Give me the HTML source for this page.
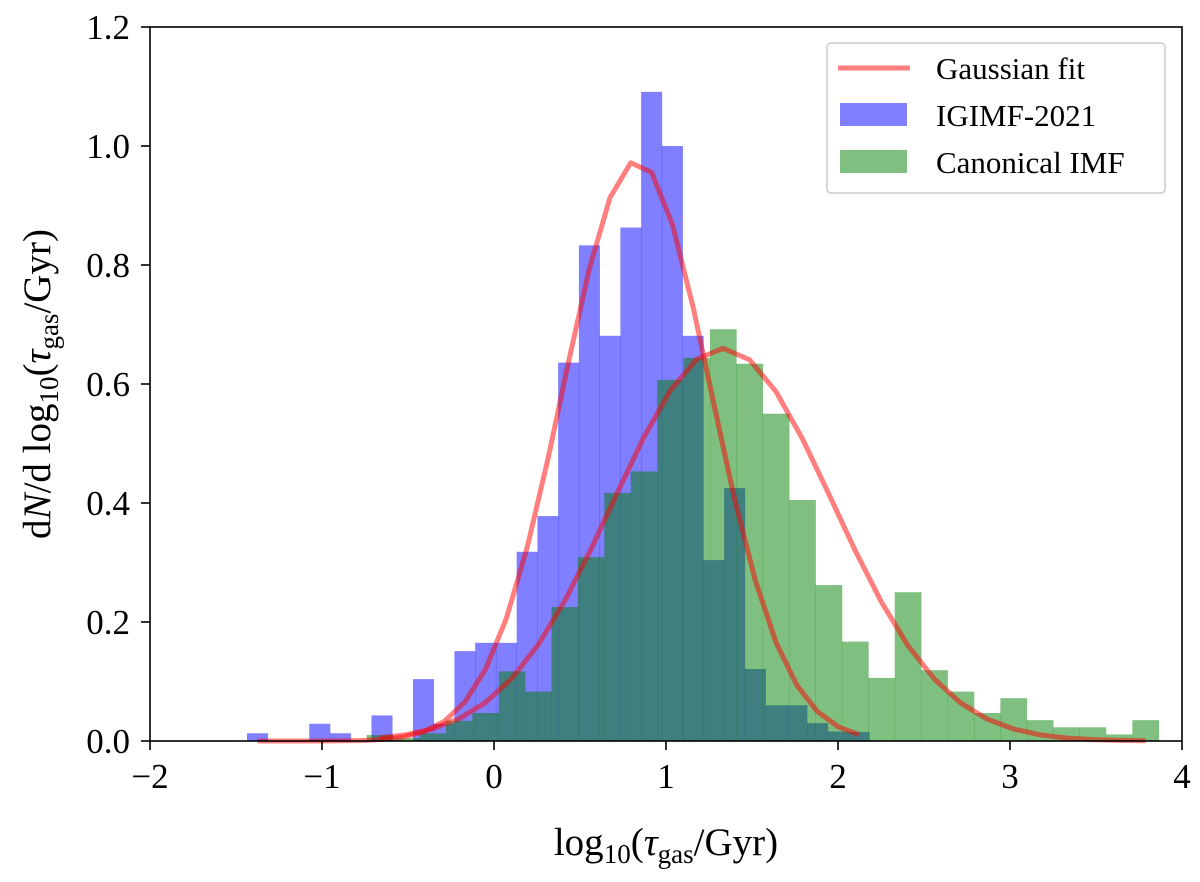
<!DOCTYPE html>
<html><head><meta charset="utf-8"><style>
body{margin:0;background:#fff}
svg text{font-family:"Liberation Serif","DejaVu Serif",serif;fill:#000}
</style></head><body>
<svg id="chart" width="1200" height="877" viewBox="0 0 1200 877" xmlns="http://www.w3.org/2000/svg">
<g id="bars"></g>
<g id="fits"></g>
<rect x="150" y="27" width="1032" height="714" fill="none" stroke="#000" stroke-width="1.6"/>
<g id="ticks"></g>
<text x="666" y="855" font-size="39" text-anchor="middle">log<tspan font-size="27" dy="8">10</tspan><tspan dy="-8">(</tspan><tspan font-style="italic">τ</tspan><tspan font-size="27" dy="8">gas</tspan><tspan dy="-8">/Gyr)</tspan></text>
<text transform="translate(50,384) rotate(-90)" font-size="39" text-anchor="middle">d<tspan font-style="italic">N</tspan>/d log<tspan font-size="27" dy="8">10</tspan><tspan dy="-8">(</tspan><tspan font-style="italic">τ</tspan><tspan font-size="27" dy="8">gas</tspan><tspan dy="-8">/Gyr)</tspan></text>
<g>
<rect x="827" y="43" width="338" height="150" rx="4" fill="#fff" fill-opacity="0.8" stroke="#ccc" stroke-width="1.5"/>
<line x1="838" y1="68" x2="910" y2="68" stroke="rgba(255,0,0,0.5)" stroke-width="5"/>
<text x="936" y="79" font-size="31">Gaussian fit</text>
<rect x="840" y="103" width="67" height="23" fill="rgba(0,0,255,0.5)"/>
<text x="936" y="126" font-size="31">IGIMF-2021</text>
<rect x="840" y="150" width="67" height="23" fill="rgba(0,128,0,0.5)"/>
<text x="936" y="173" font-size="31">Canonical IMF</text>
</g>
</svg>
<script>
const xTicks=[-2,-1,0,1,2,3,4];
const yTicks=[0.0,0.2,0.4,0.6,0.8,1.0,1.2];
const blueStart=-1.436, blueWidth=0.1206;
const blueValues=[0.013,0,0,0.029,0.013,0,0.043,0,0.104,0.029,0.151,0.165,0.165,0.318,0.378,0.636,0.833,0.681,0.863,1.091,1.0,0.681,0.304,0.425,0.121,0.06,0.06,0.03,0.016,0.015];
const greenStart=-0.74, greenWidth=0.1535;
const greenValues=[0.01,0.005,0.013,0.034,0.047,0.117,0.083,0.225,0.309,0.417,0.453,0.607,0.644,0.692,0.634,0.55,0.405,0.262,0.167,0.106,0.25,0.119,0.083,0.047,0.072,0.035,0.023,0.023,0.011,0.035];
const fitAmp=[0.975,0.66];
const fitMu=[0.83,1.33];
const fitSigma=[0.43,0.64];
const NS='http://www.w3.org/2000/svg';
const X=v=>150+(v+2)*172;
const Y=v=>741-v*595;
function mk(tag,attrs,parent){const e=document.createElementNS(NS,tag);for(const k in attrs)e.setAttribute(k,attrs[k]);parent.appendChild(e);return e;}
const bars=document.getElementById('bars');
function drawHist(start,w,vals,color,name){
 vals.forEach((v,i)=>{ if(v<=0)return;
  const x0=X(start+i*w), x1=X(start+(i+1)*w);
  const r=mk('rect',{x:x0,y:Y(v),width:x1-x0+0.3,height:Y(0)-Y(v),fill:color},bars);
  
  
 });
}
drawHist(blueStart,blueWidth,blueValues,'rgba(0,0,255,0.5)','igimf');
drawHist(greenStart,greenWidth,greenValues,'rgba(0,128,0,0.5)','canonical');
const fits=document.getElementById('fits');
[[blueStart,blueWidth,blueValues.length],[greenStart,greenWidth,greenValues.length]].forEach((s,k)=>{
 let pts=[];
 for(let i=0;i<s[2];i++){const x=s[0]+(i+0.5)*s[1];const y=fitAmp[k]*Math.exp(-Math.pow(x-fitMu[k],2)/(2*fitSigma[k]*fitSigma[k]));pts.push(X(x)+','+Y(y));}
 const p=mk('polyline',{points:pts.join(' '),fill:'none',stroke:'rgba(255,0,0,0.5)','stroke-width':5,'stroke-linejoin':'round'},fits);
 
 
});
const tk=document.getElementById('ticks');
xTicks.forEach(v=>{
 const l=mk('line',{x1:X(v),x2:X(v),y1:741,y2:750,stroke:'#000','stroke-width':1.6},tk);
 
 
 const t=mk('text',{x:X(v),y:788,'font-size':35,'text-anchor':'middle'},tk);
 t.textContent=v<0?'−'+(-v):String(v);
 
 
});
yTicks.forEach(v=>{
 const l=mk('line',{x1:141,x2:150,y1:Y(v),y2:Y(v),stroke:'#000','stroke-width':1.6},tk);
 
 
 const t=mk('text',{x:130,y:Y(v)+12,'font-size':35,'text-anchor':'end'},tk);
 t.textContent=v.toFixed(1);
 
 
});
</script>
</body></html>
